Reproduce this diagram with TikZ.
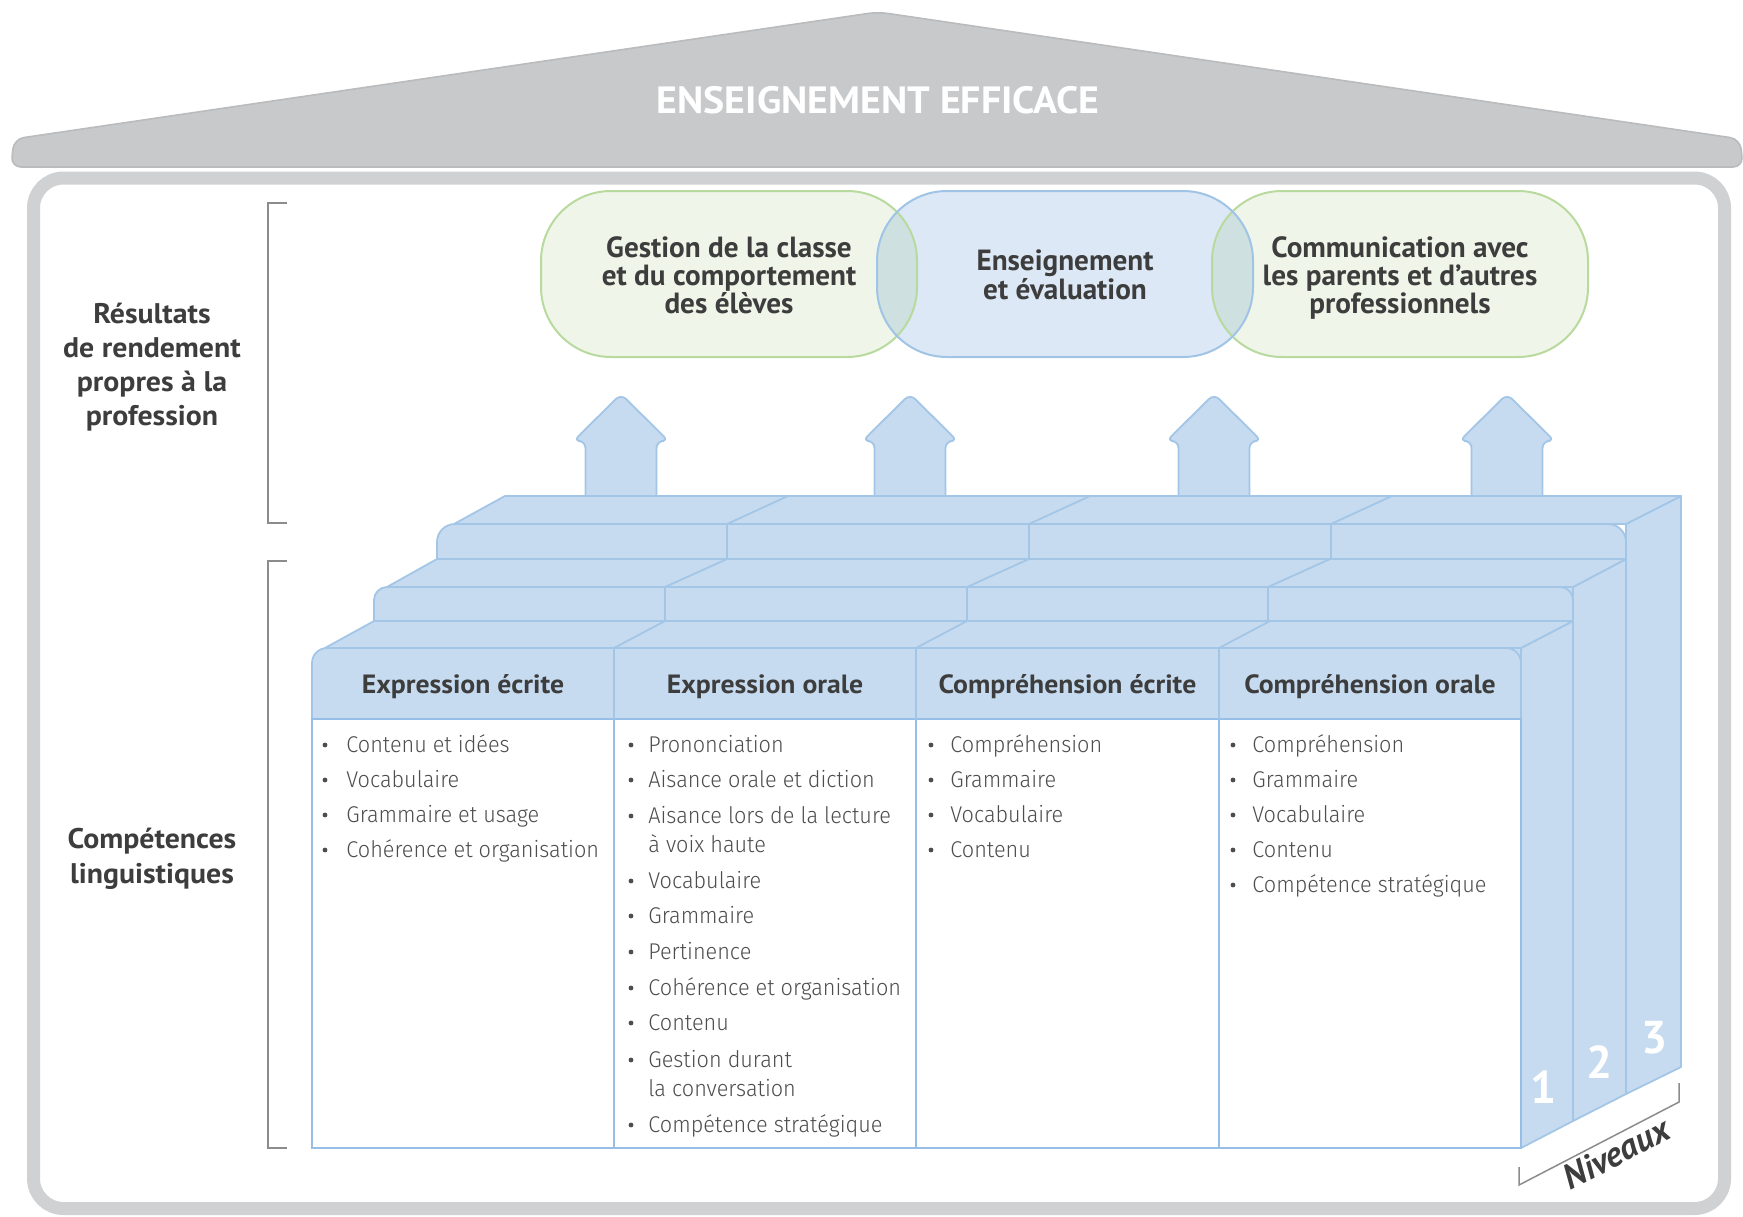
\documentclass[tikz,border=0pt]{standalone}
\usepackage{fontspec}
\setmainfont{PT Sans}
\newfontfamily\widefont{PT Sans}[FakeStretch=1.05]
\IfFontExistsTF{Fira Sans Light}{\newfontfamily\lightfont{Fira Sans Light}[FakeStretch=0.95]}{\newfontfamily\lightfont{PT Sans}}
\definecolor{roofc}{RGB}{200,201,203}
\definecolor{roofedge}{RGB}{186,187,189}
\definecolor{wallc}{RGB}{208,209,211}
\definecolor{slab}{RGB}{198,219,240}
\definecolor{slabedge}{RGB}{163,198,231}
\definecolor{bodyedge}{RGB}{150,190,230}
\definecolor{txt}{RGB}{61,61,61}
\definecolor{ltxt}{RGB}{77,77,77}
\definecolor{gfill}{RGB}{239,245,232}
\definecolor{gedge}{RGB}{184,218,158}
\definecolor{bfill}{RGB}{220,232,245}
\definecolor{bedge}{RGB}{160,196,230}
\definecolor{ofill}{RGB}{206,224,224}
\definecolor{brk}{RGB}{140,140,140}
\tikzset{
  face/.style={fill=slab, draw=slabedge, line width=0.9pt, line join=round},
  edge/.style={draw=slabedge, line width=0.9pt},
  bodyline/.style={draw=bodyedge, line width=1.1pt},
  bracket/.style={draw=brk, line width=0.75pt},
  headtxt/.style={inner sep=0pt, text=txt, anchor=base, font=\widefont\bfseries\fontsize{13.2}{15}\selectfont},
  sidetxt/.style={inner sep=0pt, text=txt, anchor=base, font=\widefont\bfseries\fontsize{14.2}{16}\selectfont},
  ovaltxt/.style={inner sep=0pt, text=txt, anchor=base, font=\bfseries\fontsize{14.6}{16}\selectfont},
  itemtxt/.style={inner sep=0pt, text=ltxt, anchor=base west, font=\lightfont\fontsize{11.4}{14}\selectfont},
  digit/.style={inner sep=0pt, text=white, font=\bfseries\fontsize{23}{24}\selectfont},
  titletxt/.style={inner sep=0pt, text=white, anchor=base, font=\widefont\bfseries\fontsize{19}{21}\selectfont},
  nivtxt/.style={inner sep=0pt, text=txt, font=\bfseries\itshape\fontsize{17.5}{18}\selectfont},
}
\begin{document}
\begin{tikzpicture}[x=0.5pt,y=-0.5pt]
\useasboundingbox (0,0) rectangle (1743,1216);
% wall
\draw[wallc, line width=6.5pt, rounded corners=15pt] (33.5,178) rectangle (1724.5,1208.5);
% roof
\path[fill=roofc, draw=roofedge, line width=0.8pt, rounded corners=5pt] (11,167) -- (14,139) -- (878,12) -- (1740,139) -- (1743,167) -- cycle;
\node[titletxt] (title) at (878,113) {ENSEIGNEMENT EFFICACE};

% ovals
\fill[gfill, rounded corners=35pt] (541,191) rectangle (917,357);
\fill[gfill, rounded corners=35pt] (1212,191) rectangle (1588,357);
\fill[bfill, rounded corners=35pt] (877,191) rectangle (1253,357);
\begin{scope}
  \clip[rounded corners=35pt] (877,191) rectangle (1253,357);
  \fill[ofill, rounded corners=35pt] (541,191) rectangle (917,357);
  \fill[ofill, rounded corners=35pt] (1212,191) rectangle (1588,357);
\end{scope}
\draw[gedge, line width=1pt, rounded corners=35pt] (541,191) rectangle (917,357);
\draw[gedge, line width=1pt, rounded corners=35pt] (1212,191) rectangle (1588,357);
\draw[bedge, line width=1pt, rounded corners=35pt] (877,191) rectangle (1253,357);

\node[ovaltxt] (g1a) at (729,257) {Gestion de la classe};
\node[ovaltxt] (g1b) at (729,285) {et du comportement};
\node[ovaltxt] (g1c) at (729,313) {des élèves};
\node[ovaltxt] (b1a) at (1065,270) {Enseignement};
\node[ovaltxt] (b1b) at (1065,299) {et évaluation};
\node[ovaltxt] (g2a) at (1400,257) {Communication avec};
\node[ovaltxt] (g2b) at (1400,285) {les parents et d’autres};
\node[ovaltxt] (g2c) at (1400,313) {professionnels};

% left labels
\node[sidetxt] (r1) at (152,323) {Résultats};
\node[sidetxt] (r2) at (152,357) {de rendement};
\node[sidetxt] (r3) at (152,391) {propres à la};
\node[sidetxt] (r4) at (152,425) {profession};
\node[sidetxt] (c1) at (152,848) {Compétences};
\node[sidetxt] (c2) at (152,883) {linguistiques};

% brackets
\draw[bracket] (287,203) -- (268,203) -- (268,523) -- (287,523);
\draw[bracket] (287,561) -- (268,561) -- (268,1148) -- (287,1148);

% arrows
\foreach \cx in {621,910,1214,1507} {
  \path[face, rounded corners=3.5pt] (\cx-35.5,505) -- (\cx-35.5,441) -- (\cx-47.5,441) -- (\cx,394) -- (\cx+47.5,441) -- (\cx+35.5,441) -- (\cx+35.5,505);
}

% level 3
\path[face] (1626,524) -- (1681,496) -- (1681,1067) -- (1626,1094) -- cycle;
\path[face] (454,524) -- (505,496) -- (1681,496) -- (1626,524) -- cycle;
\path[face, rounded corners=9pt] (437,1080) rectangle (1626,524);
\foreach \d in {727,1029,1331} {
  \draw[edge] (\d,524) -- (\d+61,496);
  \draw[edge] (\d,524) -- (\d,559);
}
% level 2
\path[face] (1573,587) -- (1626,559) -- (1626,1094) -- (1573,1121) -- cycle;
\path[face] (387,587) -- (437,559) -- (1626,559) -- (1573,587) -- cycle;
\path[face, rounded corners=6.5pt] (374,1110) rectangle (1573,587);
\foreach \d in {665,967,1268} {
  \draw[edge] (\d,587) -- (\d+62,559);
  \draw[edge] (\d,587) -- (\d,621);
}
% level 1
\path[face] (1521,648) -- (1573,621) -- (1573,1121) -- (1521,1148) -- cycle;
\path[face] (325,648) -- (374,621) -- (1573,621) -- (1521,648) -- cycle;
\path[face, rounded corners=7.5pt] (312,760) rectangle (1521,648);
\path[fill=white, draw=bodyedge, line width=1.2pt] (312,719) rectangle (1521,1148);
\foreach \d in {614,916,1219} {
  \draw[edge] (\d,648) -- (\d+51,621);
  \draw[edge] (\d,648) -- (\d,719);
  \draw[bodyline] (\d,719) -- (\d,1148);
}

% headers
\node[headtxt] (h1) at (463,693) {Expression écrite};
\node[headtxt] (h2) at (765,693) {Expression orale};
\node[headtxt] (h3) at (1067.5,693) {Compréhension écrite};
\node[headtxt] (h4) at (1370,693) {Compréhension orale};

% lists
\foreach \t/\y [count=\i] in {Contenu et idées/752,Vocabulaire/787,Grammaire et usage/822,Cohérence et organisation/857} {
  \node[itemtxt] (ia\i) at (346,\y) {\t};
  \fill[ltxt] (325,\y-7) circle (1.2pt);
}
\foreach \t/\y/\b [count=\i] in {Prononciation/752/1,Aisance orale et diction/787/1,Aisance lors de la lecture/823/1,à voix haute/852/0,Vocabulaire/888/1,Grammaire/923/1,Pertinence/959/1,Cohérence et organisation/995/1,Contenu/1030/1,Gestion durant/1067/1,la conversation/1096/0,Compétence stratégique/1132/1} {
  \node[itemtxt] (ib\i) at (648,\y) {\t};
  \ifnum\b=1 \fill[ltxt] (631,\y-7) circle (1.2pt); \fi
}
\foreach \t/\y [count=\i] in {Compréhension/752,Grammaire/787,Vocabulaire/822,Contenu/857} {
  \node[itemtxt] (ic\i) at (950,\y) {\t};
  \fill[ltxt] (931,\y-7) circle (1.2pt);
}
\foreach \t/\y [count=\i] in {Compréhension/752,Grammaire/787,Vocabulaire/822,Contenu/857,Compétence stratégique/892} {
  \node[itemtxt] (id\i) at (1252,\y) {\t};
  \fill[ltxt] (1233,\y-7) circle (1.2pt);
}

% level numbers
\node[digit] (n1) at (1544,1087) {1};
\node[digit] (n2) at (1600,1062) {2};
\node[digit] (n3) at (1655,1038) {3};

% Niveaux bracket
\draw[bracket] (1519,1167) -- (1519,1185) -- (1679,1102) -- (1679,1083);
\node[nivtxt, rotate=27.4] (niv) at (1616,1153) {Niveaux};
\end{tikzpicture}
\end{document}
